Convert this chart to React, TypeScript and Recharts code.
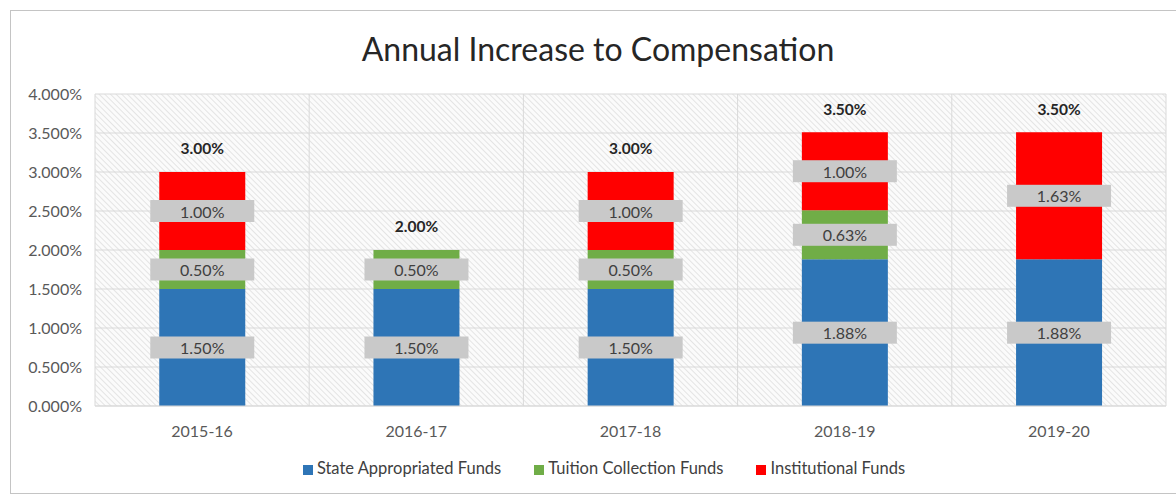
import { BarChart, Bar, XAxis, YAxis, CartesianGrid, Legend, LabelList } from "recharts";

const years = ["2015-16", "2016-17", "2017-18", "2018-19", "2019-20"];
const stateFunds = [1.5, 1.5, 1.5, 1.88, 1.88];
const tuitionFunds = [0.5, 0.5, 0.5, 0.63, 0];
const institutionalFunds = [1.0, 0, 1.0, 1.0, 1.63];
const totals = [3.0, 2.0, 3.0, 3.5, 3.5];
const yTicks = [0, 0.5, 1, 1.5, 2, 2.5, 3, 3.5, 4];
const seriesNames = ["State Appropriated Funds", "Tuition Collection Funds", "Institutional Funds"];

const data = years.map((year, i) => ({
  year,
  state: stateFunds[i],
  tuition: tuitionFunds[i],
  institutional: institutionalFunds[i],
  total: totals[i],
}));

const FONT = "Lato, 'Open Sans', sans-serif";

// gray callout box with the segment value
function BoxLabel(props: any) {
  const { x, y, width, height, value } = props;
  if (!value) return null;
  const cx = x + width / 2;
  const cy = y + height / 2;
  const w = 104;
  const h = 22;
  return (
    <g>
      <rect x={cx - w / 2} y={cy - h / 2} width={w} height={h} fill="#c9c9c9" />
      <text x={cx} y={cy} textAnchor="middle" dominantBaseline="central" fontSize={16} fill="#404040" fontFamily={FONT}>
        {value.toFixed(2)}%
      </text>
    </g>
  );
}

// bold total above the stack; uses the bottom bar to get the pixel scale
function TotalLabel(props: any) {
  const { x, y, width, height, value, index } = props;
  const perUnit = height / value;
  const base = y + height;
  const top = base - totals[index] * perUnit;
  return (
    <text x={x + width / 2} y={top - 24} textAnchor="middle" dominantBaseline="central" fontSize={15.5} fontWeight="bold" fill="#262626" fontFamily={FONT}>
      {totals[index].toFixed(2)}%
    </text>
  );
}

export default function App() {
  return (
    <div style={{ position: "absolute", left: 0, top: 0, width: 1176, height: 494, overflow: "hidden", background: "#fff" }}>
      <div style={{ position: "absolute", left: 10, top: 10, width: 1200, height: 482, border: "1.5px solid #c4c4c4" }} />
      <div style={{ position: "absolute", left: 0, top: 29, width: 1196, textAlign: "center", fontFamily: FONT, fontSize: 32, color: "#262626" }}>
        Annual Increase to Compensation
      </div>
      <div style={{ position: "absolute", left: 0, top: 0 }}>
        <BarChart width={1176} height={494} data={data} margin={{ top: 94, right: 10, left: 0, bottom: 17 }} barCategoryGap="30%">
          <defs>
            <pattern id="hatch" width="4" height="4" patternUnits="userSpaceOnUse" patternTransform="rotate(45)">
              <rect width="4" height="4" fill="#fbfbfb" />
              <line x1="0" y1="0" x2="4" y2="0" stroke="#d6d6d6" strokeWidth="1.2" />
            </pattern>
          </defs>
          <CartesianGrid
            stroke="#d9d9d9"
            fill="url(#hatch)"
            verticalCoordinatesGenerator={({ offset }: any) =>
              [...years, ""].map((_, i) => offset.left + (i * offset.width) / years.length)
            }
          />
          <XAxis
            dataKey="year"
            tickLine={false}
            axisLine={{ stroke: "#d9d9d9" }}
            tickSize={0}
            tickMargin={20}
            height={53}
            tick={{ fontSize: 16, fill: "#595959", fontFamily: FONT }}
          />
          <YAxis
            domain={[0, 4]}
            ticks={yTicks}
            width={95}
            tickLine={false}
            axisLine={false}
            tickSize={0}
            tickMargin={13}
            tickFormatter={(v: number) => v.toFixed(3) + "%"}
            tick={{ fontSize: 16, fill: "#595959", fontFamily: FONT }}
          />
          <Legend
            verticalAlign="bottom"
            iconType="square"
            iconSize={10}
            itemSorter={(item: any) => seriesNames.indexOf(item.value)}
            wrapperStyle={{ fontFamily: FONT, fontSize: 16.5, lineHeight: "18px", color: "#404040", paddingLeft: 75, boxSizing: "border-box" }}
            formatter={(value: string) => <span style={{ color: "#404040", paddingRight: 23 }}>{value}</span>}
          />
          <Bar dataKey="state" name={seriesNames[0]} stackId="a" fill="#2e75b6" isAnimationActive={false}>
            <LabelList dataKey="state" content={<BoxLabel />} />
            <LabelList dataKey="state" content={<TotalLabel />} />
          </Bar>
          <Bar dataKey="tuition" name={seriesNames[1]} stackId="a" fill="#70ad47" isAnimationActive={false}>
            <LabelList dataKey="tuition" content={<BoxLabel />} />
          </Bar>
          <Bar dataKey="institutional" name={seriesNames[2]} stackId="a" fill="#ff0000" isAnimationActive={false}>
            <LabelList dataKey="institutional" content={<BoxLabel />} />
          </Bar>
        </BarChart>
      </div>
    </div>
  );
}
